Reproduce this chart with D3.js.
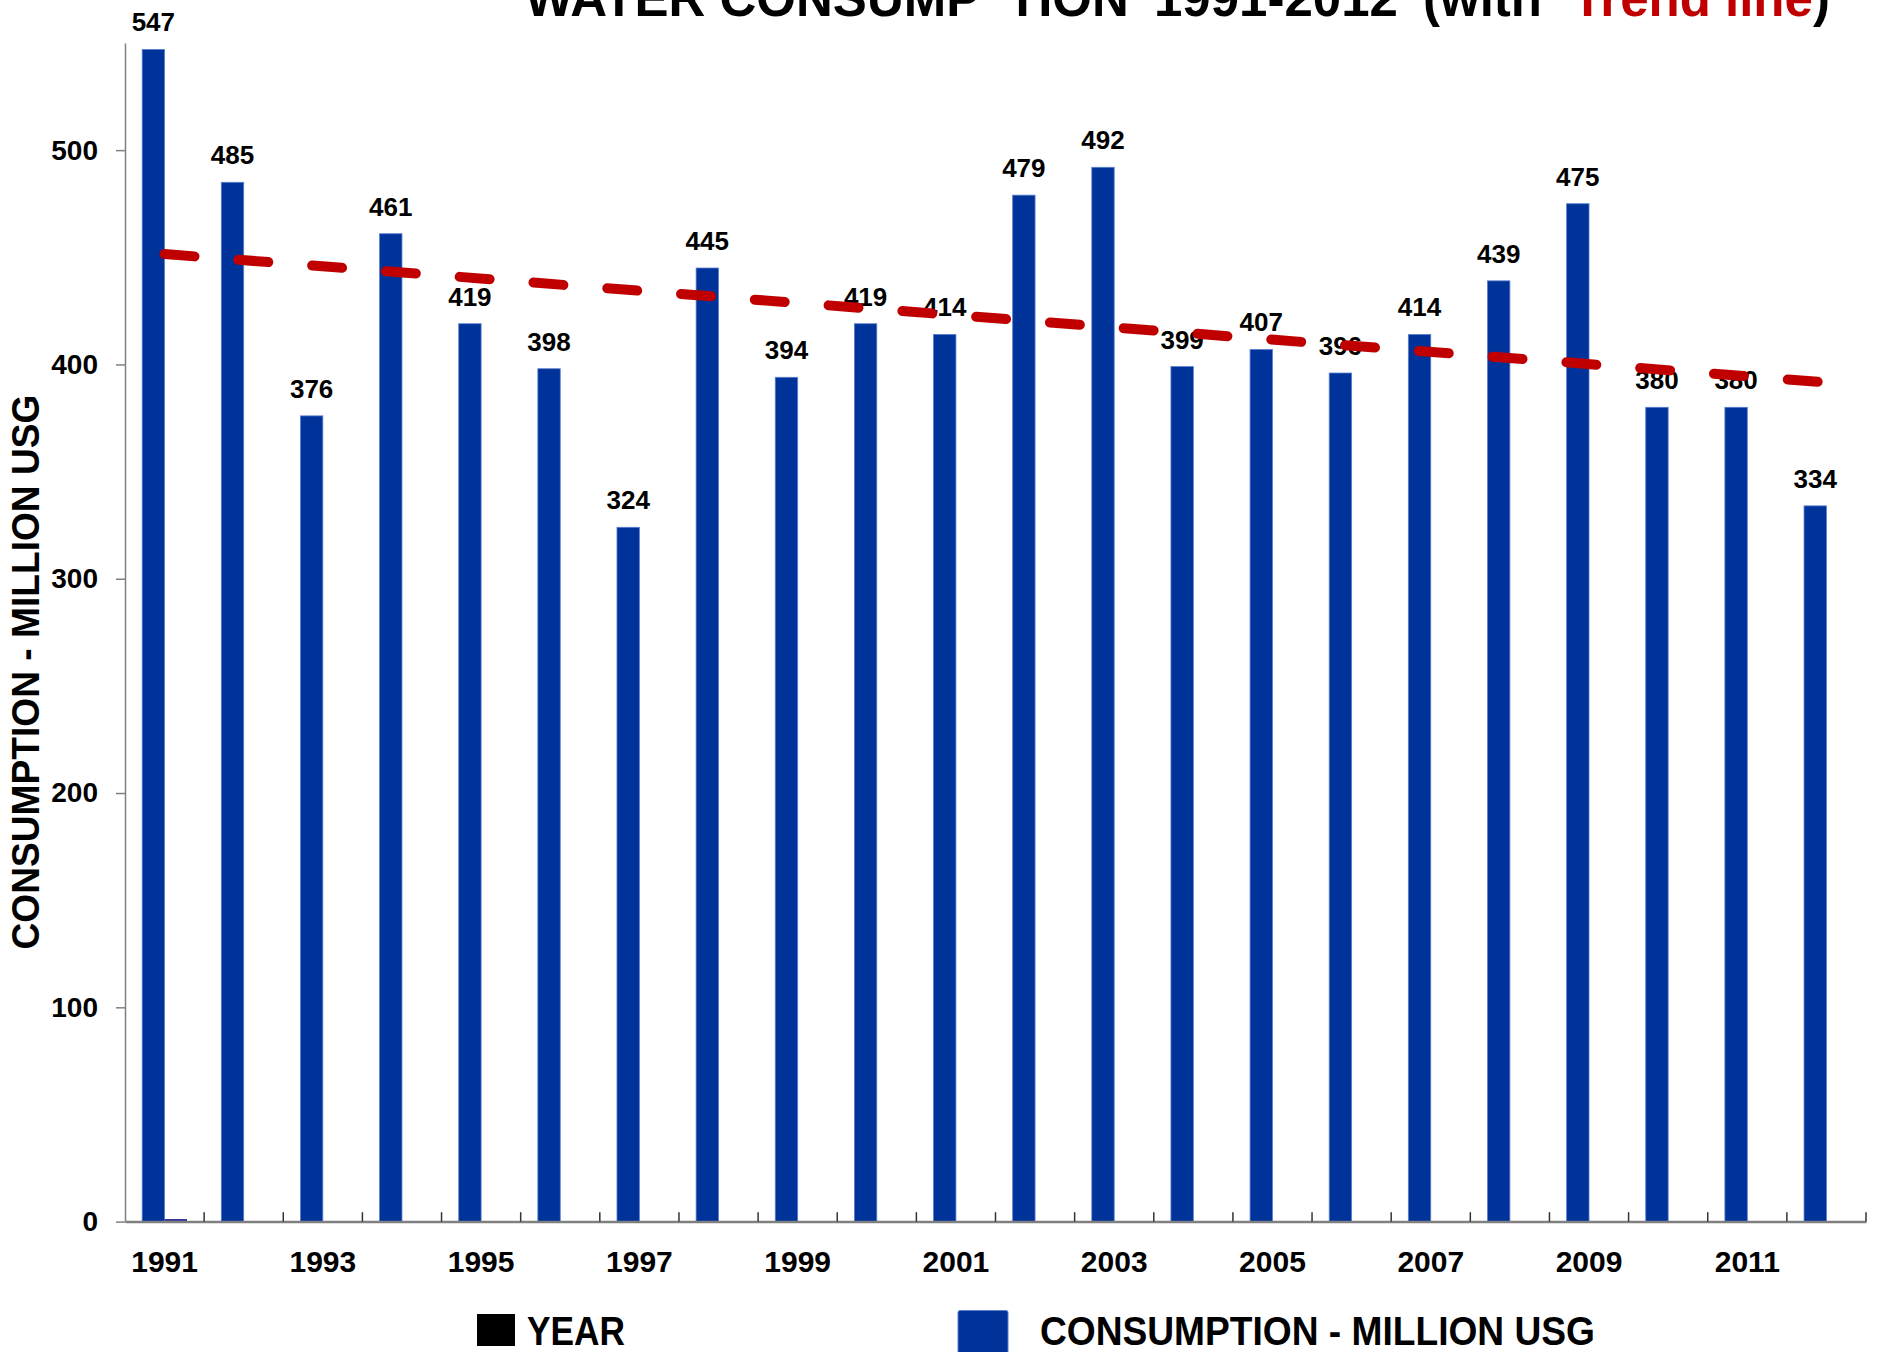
<!DOCTYPE html>
<html>
<head>
<meta charset="utf-8">
<script src="https://cdn.jsdelivr.net/npm/d3@7"></script>
<style>
  html, body { margin: 0; padding: 0; background: #ffffff; }
  svg { display: block; }
  text { font-family: "Liberation Sans", Arial, sans-serif; font-weight: bold; }
</style>
</head>
<body>
<script>
// ---- DATA ----
const years = [1991, 1992, 1993, 1994, 1995, 1996, 1997, 1998, 1999, 2000, 2001,
               2002, 2003, 2004, 2005, 2006, 2007, 2008, 2009, 2010, 2011, 2012];
const consumption = [547, 485, 376, 461, 419, 398, 324, 445, 394, 419, 414,
                     479, 492, 399, 407, 396, 414, 439, 475, 380, 380, 334];
const yearSeries = [1.2, 0, 0, 0, 0, 0, 0, 0, 0, 0, 0,
                    0, 0, 0, 0, 0, 0, 0, 0, 0, 0, 0];
const trendValues = [451.5, 391.6];           // trend line at first and last year
const yTickValues = [0, 100, 200, 300, 400, 500];
const xTickLabels = [1991, 1993, 1995, 1997, 1999, 2001, 2003, 2005, 2007, 2009, 2011];
const seriesNames = ["CONSUMPTION - MILLION USG", "YEAR"];

// ---- LAYOUT ----
const W = 1878, H = 1352;
const x0 = 125, x1 = 1866, yBottom = 1221.6, yTop = 43;
const blue = "#003399", red = "#c00000";

const svg = d3.select("body").append("svg").attr("width", W).attr("height", H);
svg.append("rect").attr("width", W).attr("height", H).attr("fill", "#fff");

const x = d3.scaleBand().domain(years).range([x0, x1]).paddingInner(0).paddingOuter(0);
const xs = d3.scaleBand().domain(["c", "y"]).range([0, x.bandwidth()]).paddingInner(0).paddingOuter(0.766);
const y = d3.scaleLinear().domain([0, 550]).range([yBottom, yTop]);

// Bars: consumption
svg.append("g").selectAll("rect").data(years).join("rect")
  .attr("x", (d) => x(d) + xs("c"))
  .attr("width", xs.bandwidth())
  .attr("y", (d, i) => y(consumption[i]))
  .attr("height", (d, i) => y(0) - y(consumption[i]))
  .attr("fill", blue)
  .attr("stroke", "#5b7fd0").attr("stroke-width", 0.8);

// Bars: year series (tiny)
svg.append("g").selectAll("rect").data(years).join("rect")
  .attr("x", (d) => x(d) + xs("y"))
  .attr("width", xs.bandwidth())
  .attr("y", (d, i) => y(yearSeries[i]))
  .attr("height", (d, i) => y(0) - y(yearSeries[i]))
  .attr("fill", "#333399");

// Y axis
const yAxis = svg.append("g").attr("transform", `translate(${x0},0)`)
  .call(d3.axisLeft(y).tickValues(yTickValues).tickSize(9).tickSizeOuter(0).tickPadding(18));
yAxis.select(".domain").attr("stroke", "#808080").attr("stroke-width", 1.5);
yAxis.selectAll(".tick line").attr("stroke", "#808080").attr("stroke-width", 1.5);
yAxis.selectAll(".tick text").attr("font-size", 28).attr("fill", "#000")
  .style("font-family", "'Liberation Sans', Arial, sans-serif").style("font-weight", "bold");

// X axis (labels on every other year)
const xAxis = svg.append("g").attr("transform", `translate(0,${yBottom})`)
  .call(d3.axisBottom(x).tickValues(xTickLabels).tickSize(0).tickSizeOuter(0).tickPadding(29));
xAxis.select(".domain").attr("stroke", "#808080").attr("stroke-width", 2.5);
xAxis.selectAll(".tick text").attr("font-size", 30).attr("fill", "#000")
  .style("font-family", "'Liberation Sans', Arial, sans-serif").style("font-weight", "bold");

// X boundary tick marks (pointing up)
svg.append("g").selectAll("line").data(years).join("line")
  .attr("x1", (d) => x(d) + x.step()).attr("x2", (d) => x(d) + x.step())
  .attr("y1", yBottom).attr("y2", yBottom - 9.4)
  .attr("stroke", "#333").attr("stroke-width", 1.5);

// Value labels
svg.append("g").selectAll("text").data(years).join("text")
  .attr("x", (d) => x(d) + xs("c") + xs.bandwidth() / 2)
  .attr("y", (d, i) => y(consumption[i]) - 18)
  .attr("text-anchor", "middle")
  .attr("font-size", 26)
  .attr("fill", "#000")
  .text((d, i) => consumption[i]);

// Trend line (dashed red)
const trendPts = [[years[0], trendValues[0]], [years[years.length - 1], trendValues[1]]];
svg.append("path")
  .attr("d", d3.line().x((d) => x(d[0]) + x.bandwidth() / 2).y((d) => y(d[1]))(trendPts))
  .attr("fill", "none")
  .attr("stroke", red)
  .attr("stroke-width", 10)
  .attr("stroke-linecap", "round")
  .attr("stroke-dasharray", "30 44");

// Title (cut off at top)
const title = svg.append("text").attr("y", 15.5).attr("font-size", 51).attr("fill", "#000");
title.append("tspan").attr("x", 525).text("WATER CONSUMP");
title.append("tspan").attr("x", 1007).text("TION");
title.append("tspan").attr("x", 1154).text("1991-2012");
title.append("tspan").attr("x", 1423).text("(with");
title.append("tspan").attr("x", 1572).attr("fill", red).text("Trend line");
title.append("tspan").attr("x", 1813).text(")");

// Y axis title
svg.append("text")
  .attr("transform", `translate(38.5,${672}) rotate(-90)`)
  .attr("text-anchor", "middle")
  .attr("font-size", 38)
  .attr("textLength", 555)
  .attr("lengthAdjust", "spacingAndGlyphs")
  .attr("fill", "#000")
  .text(seriesNames[0]);

// Legend
const legend = svg.append("g");
legend.append("rect").attr("x", 477).attr("y", 1314).attr("width", 38).attr("height", 32).attr("fill", "#000");
legend.append("text").attr("x", 527).attr("y", 1345).attr("font-size", 40)
  .attr("textLength", 98).attr("lengthAdjust", "spacingAndGlyphs").attr("fill", "#000").text(seriesNames[1]);
legend.append("rect").attr("x", 958).attr("y", 1310.5).attr("width", 50).attr("height", 50)
  .attr("rx", 2).attr("fill", blue).attr("stroke", "#5b7fd0").attr("stroke-width", 1);
legend.append("text").attr("x", 1040).attr("y", 1345).attr("font-size", 40)
  .attr("textLength", 555).attr("lengthAdjust", "spacingAndGlyphs").attr("fill", "#000").text(seriesNames[0]);
</script>
</body>
</html>
